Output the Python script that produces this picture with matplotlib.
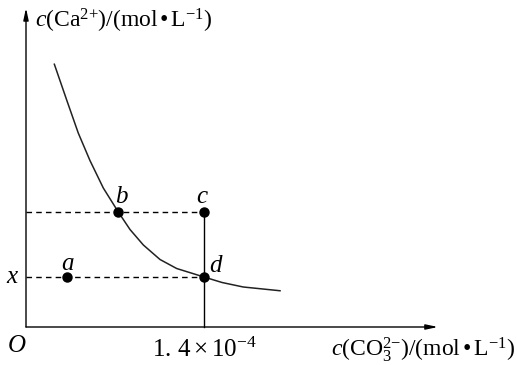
import matplotlib.pyplot as plt

plt.rcParams['mathtext.fontset'] = 'custom'
plt.rcParams['mathtext.rm'] = 'Liberation Serif'
plt.rcParams['mathtext.it'] = 'Liberation Serif:italic'
plt.rcParams['font.family'] = 'Liberation Serif'

# curve (x in 1e-4 mol/L, y in 1e-5 mol/L)
curve_x = [0.223, 0.320, 0.411, 0.503, 0.608, 0.726, 0.818, 0.923, 1.054, 1.185,
           1.4, 1.542, 1.709, 1.998]
curve_y = [10.51, 9.08, 7.76, 6.66, 5.56, 4.60, 3.90, 3.28, 2.70, 2.34,
           2.0, 1.78, 1.60, 1.45]

# labelled points
pt_names = ['a', 'b', 'c', 'd']
pt_x = [0.32, 0.726, 1.4, 1.4]
pt_y = [2.0, 4.60, 4.60, 2.0]

fig = plt.figure(figsize=(5.17, 3.65), dpi=100)
ax = fig.add_axes([0, 0, 1, 1])
ax.set_xlim(-0.2045, 3.862)
ax.set_ylim(-1.52, 13.08)
ax.axis('off')

# axes with arrows
arr = dict(arrowstyle='-|>,head_length=0.7,head_width=0.15', color='k', lw=1.0,
           shrinkA=0, shrinkB=0)
ax.annotate('', xy=(0, 12.76), xytext=(0, 0), arrowprops=arr)
ax.annotate('', xy=(3.24, 0), xytext=(0, 0), arrowprops=arr)

# curve
ax.plot(curve_x, curve_y, color='#222222', lw=1.1, solid_joinstyle='round')

# guide lines
ax.plot([0, pt_x[2]], [pt_y[2], pt_y[2]], 'k--', lw=1.0, dashes=(4, 3))
ax.plot([0, pt_x[3]], [pt_y[3], pt_y[3]], 'k--', lw=1.0, dashes=(4, 3))
ax.plot([pt_x[2], pt_x[2]], [0, pt_y[2]], color='k', lw=1.0)

# points
ax.plot(pt_x, pt_y, 'o', color='k', markersize=6.5)
offs = [(0.006, 0.28), (0.025, 0.37), (-0.01, 0.37), (0.094, 0.2)]
for n, x, y, (dx, dy) in zip(pt_names, pt_x, pt_y, offs):
    ax.text(x + dx, y + dy, '$\\mathit{' + n + '}$', fontsize=18, ha='center', va='baseline')

# labels
ax.text(0.07, 12.24, r'$\mathit{c}(\mathrm{Ca}^{2{+}})/(\mathrm{mol}\,$•$\,\mathrm{L}^{{-}1})$',
        fontsize=17, ha='left', va='center')
ax.text(3.846, -0.92, r'$\mathit{c}(\mathrm{CO}_3^{2{-}})/(\mathrm{mol}\,$•$\,\mathrm{L}^{{-}1})$',
        fontsize=17, ha='right', va='center')
ax.text(1.4, -0.92, r'$1.\,4\times10^{{-}4}$', fontsize=18, ha='center', va='center')
ax.text(-0.075, -1.0, '$\\mathit{O}$', fontsize=18, ha='center', va='baseline')
ax.text(-0.106, 1.76, '$\\mathit{x}$', fontsize=18, ha='center', va='baseline')

fig.savefig('out.png', dpi=100)
